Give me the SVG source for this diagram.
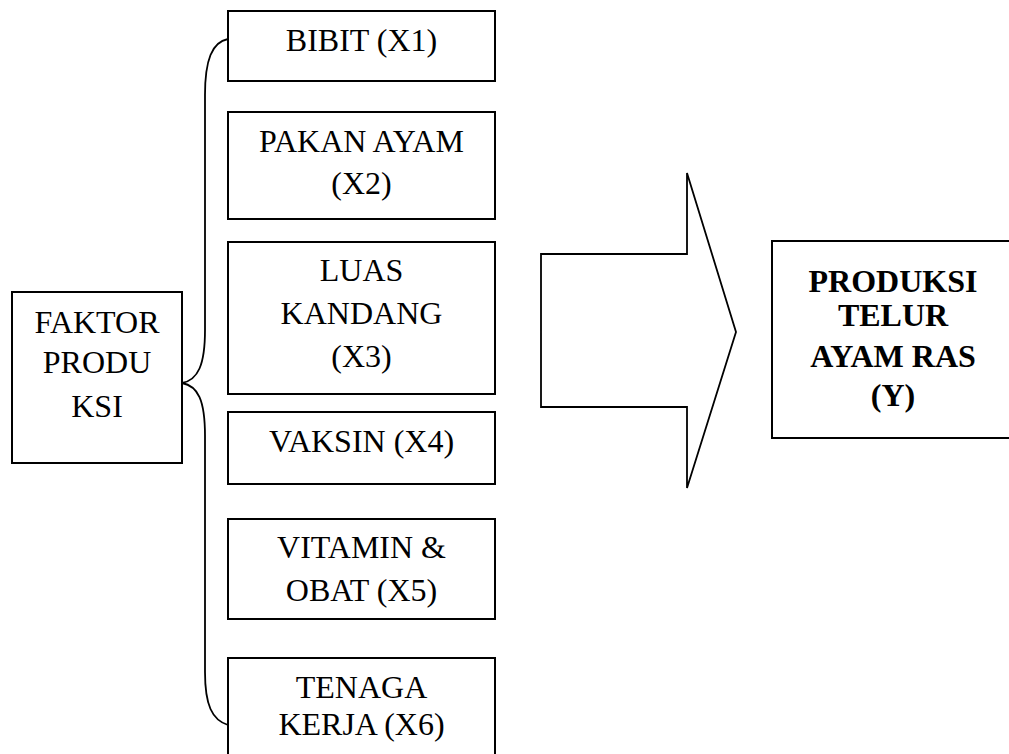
<svg xmlns="http://www.w3.org/2000/svg" width="1009" height="754" viewBox="0 0 1009 754">
<style>
.box{fill:#fff;stroke:#000;stroke-width:2}
.t{font-family:"Liberation Serif","Times New Roman",serif;font-size:32px;fill:#000;text-anchor:middle}
.b{font-weight:bold}
.c{fill:none;stroke:#000;stroke-width:1.8}
</style>
<rect width="1009" height="754" fill="#fff"/>
<g id="connectors">
<path class="c" d="M228,39 C212,42 205,60 205,95 L205,330 C205,365 198,380 182,383 C198,386 205,400 205,436 L205,672 C205,705 212,720 228,725"/>
<path id="arrow" class="c" stroke-width="2" d="M541,254 L687,254 L687,173 L736,332 L687,488 L687,407 L541,407 Z"/>
</g>
<g id="faktor">
<rect class="box" x="12" y="292" width="170" height="171"/>
<text class="t" x="97" y="333">FAKTOR</text>
<text class="t" x="97" y="373">PRODU</text>
<text class="t" x="97" y="417">KSI</text>
</g>
<g id="x1">
<rect class="box" x="228" y="11" width="267" height="70"/>
<text class="t" x="361.5" y="51">BIBIT (X1)</text>
</g>
<g id="x2">
<rect class="box" x="228" y="112" width="267" height="107"/>
<text class="t" x="361.5" y="152">PAKAN AYAM</text>
<text class="t" x="361.5" y="194">(X2)</text>
</g>
<g id="x3">
<rect class="box" x="228" y="242" width="267" height="152"/>
<text class="t" x="361.5" y="281">LUAS</text>
<text class="t" x="361.5" y="324">KANDANG</text>
<text class="t" x="361.5" y="367">(X3)</text>
</g>
<g id="x4">
<rect class="box" x="228" y="412" width="267" height="72"/>
<text class="t" x="361.5" y="452">VAKSIN (X4)</text>
</g>
<g id="x5">
<rect class="box" x="228" y="519" width="267" height="100"/>
<text class="t" x="361.5" y="558">VITAMIN &amp;</text>
<text class="t" x="361.5" y="601">OBAT (X5)</text>
</g>
<g id="x6">
<rect class="box" x="228" y="658" width="267" height="110"/>
<text class="t" x="361.5" y="698">TENAGA</text>
<text class="t" x="361.5" y="735">KERJA (X6)</text>
</g>
<g id="y">
<rect class="box" x="772" y="241" width="250" height="197"/>
<text class="t b" x="893" y="292">PRODUKSI</text>
<text class="t b" x="893" y="326">TELUR</text>
<text class="t b" x="893" y="367">AYAM RAS</text>
<text class="t b" x="893" y="406">(Y)</text>
</g>
</svg>
